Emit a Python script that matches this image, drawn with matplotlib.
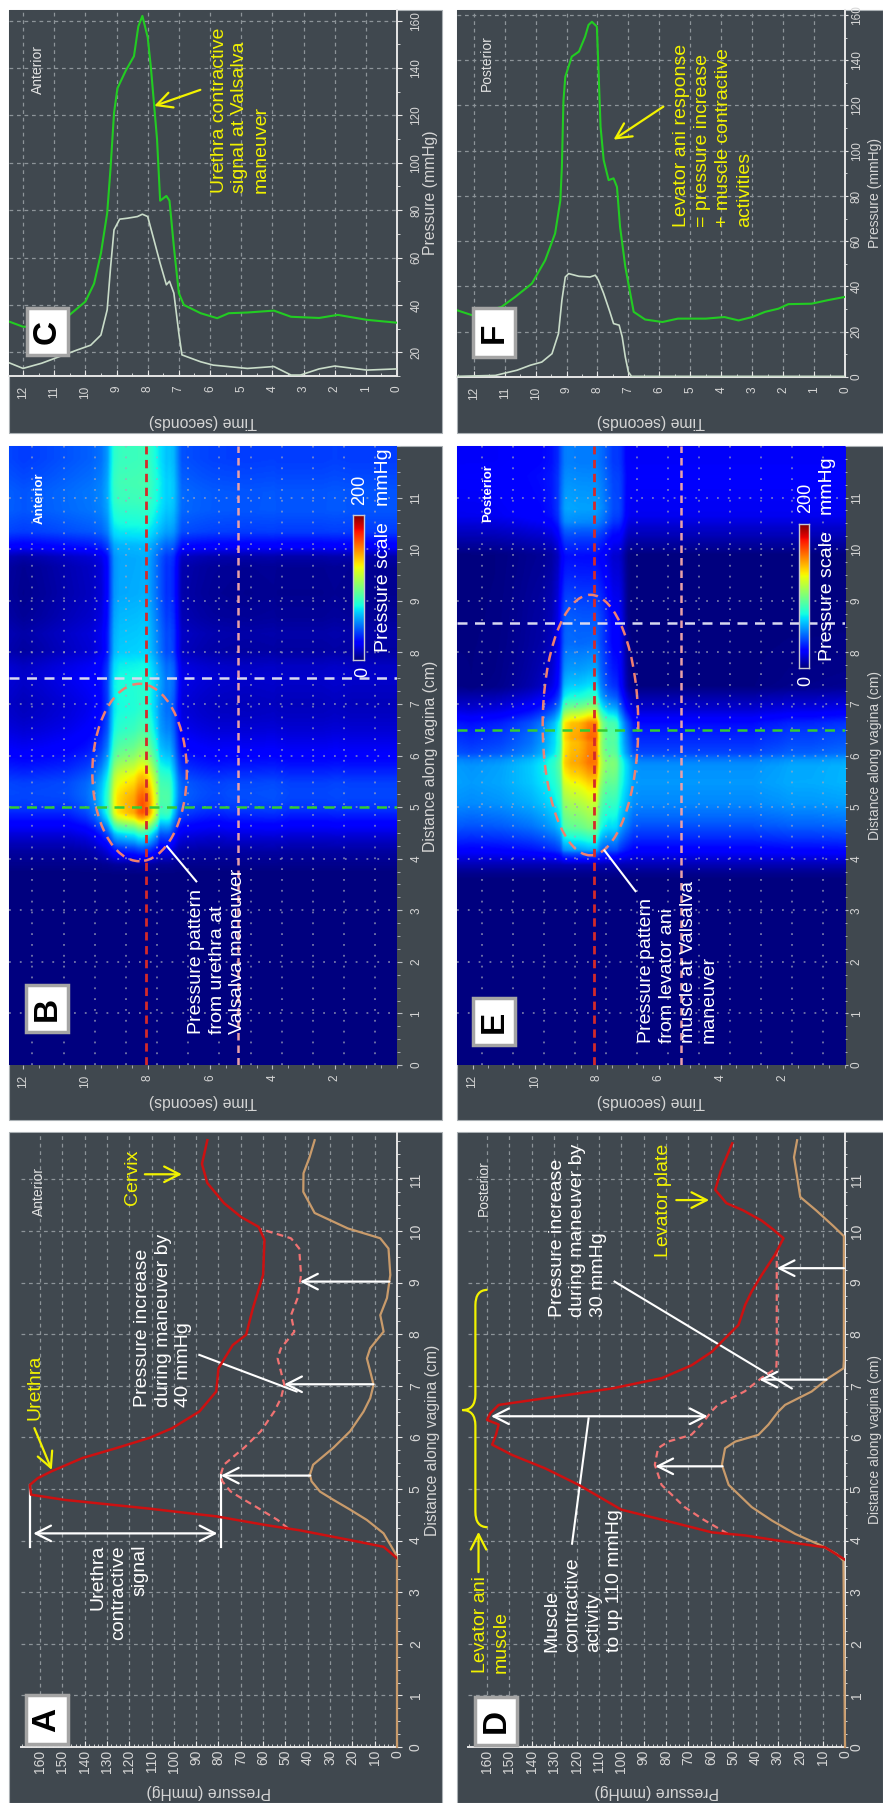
import numpy as np
import matplotlib
matplotlib.use("Agg")
import matplotlib.pyplot as plt
from matplotlib.patches import Rectangle, Ellipse, PathPatch
from matplotlib.path import Path
from matplotlib.ticker import MultipleLocator

plt.rcParams["font.family"] = ["Liberation Sans", "DejaVu Sans"]

# ---------------- anterior wall: pressure along the vagina ----------------
ant_max_d = [3.66, 3.88, 4.01, 4.20, 4.30, 4.47, 4.62, 4.79, 4.89, 5.08, 5.21, 5.34,
             5.60, 5.79, 5.99, 6.18, 6.50, 6.89, 7.34, 7.79, 7.99, 8.50, 9.15, 9.83,
             10.08, 10.27, 10.54, 10.93, 11.30, 11.76]
ant_max_p = [0, 6, 21, 43.6, 58.6, 81, 111, 149, 164, 164.5, 161, 155,
             141, 126, 111, 100.7, 88.6, 81, 80, 73.6, 67.6, 64.6, 60, 59.4,
             62, 69.8, 77.5, 85, 87.4, 85]
ant_rest_d = [0, 3.66, 3.75, 4.14, 4.40, 4.60, 4.79, 4.95, 5.15, 5.28, 5.47, 5.80,
              6.12, 6.50, 6.76, 7.02, 7.28, 7.53, 7.73, 8.05, 8.37, 8.70, 9.15,
              9.66, 9.86, 10.05, 10.35, 10.76, 11.12, 11.43, 11.76]
ant_rest_p = [0, 0, 0.7, 6, 13.5, 21, 28.5, 34.5, 38.3, 39, 37.6, 28.5,
              21, 15, 12, 10.5, 12, 13.5, 12, 6, 7.5, 4.5, 3,
              3.8, 7.5, 22, 36.9, 42, 41.9, 39.2, 36.9]
ant_increase = 40

# ---------------- posterior wall: pressure along the vagina ----------------
post_max_d = [3.63, 3.87, 4.00, 4.10, 4.16, 4.39, 4.60, 5.08, 5.40, 5.66, 5.86, 6.05,
              6.25, 6.34, 6.47, 6.63, 6.76, 6.95, 7.15, 7.40, 7.66, 7.92, 8.18, 8.57,
              8.83, 9.15, 9.54, 9.86, 10.05, 10.20, 10.40, 10.54, 10.80, 11.18, 11.70]
post_max_p = [0, 8.9, 29.8, 44.6, 59.5, 80.4, 100, 119, 134, 148.8, 157.7, 156,
              154.8, 160, 158.5, 154.8, 134, 104, 81.8, 68.5, 59.5, 53.6, 47.6, 44.6,
              41.7, 37.2, 31.3, 27.5, 32.7, 37.2, 45.5, 53, 58, 55.4, 50.4]
post_rest_d = [0, 3.61, 3.74, 3.90, 4.13, 4.39, 4.65, 5.08, 5.47, 5.79, 5.92, 6.05,
               6.25, 6.50, 6.63, 6.89, 7.15, 7.34, 7.50, 9.90, 10.10, 10.40, 10.66,
               11.05, 11.43, 11.76]
post_rest_p = [0, 0.7, 3.7, 10.4, 22.3, 32.7, 41.7, 52, 55, 53.6, 49, 38.7,
               34.2, 29.8, 26.8, 14.9, 7.4, 0.7, 0.5, 0.5, 5.3, 12.9, 20,
               21.4, 22.8, 21.4]
post_increase = 30

# ---------------- time traces at two sensors (s, mmHg) ----------------
ant_green_t = [0, 0.96, 1.9, 2.5, 3.4, 3.95, 4.8, 5.4, 5.77, 6.3, 6.84, 7.0, 7.16, 7.3,
               7.4, 7.6, 7.7, 7.9, 8.0, 8.17, 8.3, 8.44, 8.7, 8.97, 9.08, 9.19, 9.3,
               9.5, 9.72, 10.0, 10.58, 11.1, 12.0, 12.45]
ant_green_p = [32.5, 33.7, 35.8, 34.5, 35, 37.6, 36.8, 36.5, 34.4, 36.5, 40, 45, 64.6, 84,
               86, 84, 110, 140.7, 153, 162, 157.6, 145, 139, 131.5, 121, 98, 78.7,
               61.8, 49, 41.4, 35, 30.8, 30.8, 33]
ant_white_t = [0, 0.96, 2.0, 2.5, 3.1, 3.4, 3.95, 4.8, 5.9, 6.3, 6.9, 7.0, 7.16, 7.3,
               7.4, 7.6, 7.8, 8.0, 8.17, 8.33, 8.65, 8.9, 9.08, 9.19, 9.3, 9.5, 9.83,
               10.26, 11.4, 12.0, 12.45]
ant_white_p = [13, 12.5, 14.2, 13, 10.4, 10.4, 14, 13.2, 14.6, 16, 18.9, 28, 45, 50,
               48.5, 57.6, 67.5, 77.3, 78.3, 77.3, 76.6, 76.2, 71.7, 56, 37.9, 27.3, 23,
               21, 15.4, 13.2, 15.6]

post_green_t = [0, 0.54, 1.08, 1.83, 2.15, 2.58, 3.0, 3.44, 3.9, 4.5, 5.4, 5.9, 6.46,
                6.83, 6.94, 7.1, 7.27, 7.37, 7.48, 7.64, 7.8, 7.9, 7.97, 8.02, 8.18,
                8.29, 8.4, 8.6, 8.83, 9.04, 9.1, 9.15, 9.2, 9.37, 9.69, 10.12, 10.66,
                11.1, 12.05, 12.54]
post_green_p = [35.4, 34, 32.4, 32.2, 30.2, 28.8, 26.5, 25, 26.5, 25.8, 25.8, 24.3, 25.4,
                28.8, 36.9, 48.7, 66.4, 84, 87.8, 87, 95.9, 110.6, 137, 154.9, 157,
                155.6, 150.4, 143.8, 141.6, 132.7, 122, 93, 78, 63.4, 51.6, 41.3, 35.4,
                31, 27.3, 29.5]
post_white_t = [0, 6.9, 7.0, 7.1, 7.2, 7.3, 7.48, 7.6, 7.8, 7.97, 8.07, 8.24, 8.6, 8.93,
                9.04, 9.15, 9.26, 9.47, 9.8, 10.17, 10.6, 11.3, 12.54]
post_white_p = [0.3, 0.3, 2.2, 8.8, 17.7, 22.9, 23.6, 28.8, 36.9, 42.8, 45, 44.2, 44.5,
                45.7, 44.2, 33.9, 19.2, 10.3, 6.6, 5.2, 3, 0.7, 0.3]

# sensor positions (cm) and marked instants (s)
ant_sensor_d = (5.0, 7.5)
ant_cut_t = (8.05, 5.1)
post_sensor_d = (6.5, 8.57)
post_cut_t = (8.1, 5.27)

scale_range = (0, 200)

# ---------------- figure ----------------
W, H = 883, 1803
fig = plt.figure(figsize=(W / 100, H / 100), dpi=100, facecolor="white")

PANEL = "#40484f"
GRID = "#8d9499"
AXIS = "#e6e6e6"
LAB = "#d6d6d6"
YEL = "#f2f200"
RED = "#cc1111"
TAN = "#c99b6b"
PINK = "#f07272"
GREEN = "#22cc22"
PALE = "#c9dcc9"


def frac(x0, y0, x1, y1):
    return [x0 / W, 1 - y1 / H, (x1 - x0) / W, (y1 - y0) / H]


for bx in [(9, 10, 442, 433), (457, 10, 883, 433), (9, 446, 442, 1120),
           (457, 446, 883, 1120), (9, 1132, 442, 1803), (457, 1132, 883, 1803)]:
    x0, y0, x1, y1 = bx
    fig.add_artist(Rectangle((x0 / W, 1 - y1 / H), (x1 - x0) / W, (y1 - y0) / H,
                             transform=fig.transFigure, facecolor=PANEL,
                             edgecolor="#aab0b4", lw=0.8, zorder=-10))


def line_axes(box, xlim, ylim, xmaj, xmin, ymaj, ymin, fs, xpad, ypad, ylen):
    ax = fig.add_axes(frac(*box))
    ax.set_facecolor(PANEL)
    ax.set_xlim(*xlim)
    ax.set_ylim(*ylim)
    for side in ("top", "left"):
        ax.spines[side].set_visible(False)
    for side in ("bottom", "right"):
        ax.spines[side].set_color(AXIS)
        ax.spines[side].set_linewidth(1.4)
    ax.yaxis.tick_right()
    ax.set_xticks(list(xmaj))
    ax.set_xticklabels([str(v) for v in xmaj], rotation=90, fontsize=fs, color=LAB)
    ax.set_yticks(list(ymaj))
    ax.set_yticklabels([str(v) for v in ymaj], rotation=90, va="center", fontsize=fs, color=LAB)
    ax.xaxis.set_minor_locator(MultipleLocator(xmin))
    ax.yaxis.set_minor_locator(MultipleLocator(ymin))
    ax.tick_params(axis="x", which="major", direction="in", length=4, color=AXIS, pad=xpad)
    ax.tick_params(axis="x", which="minor", direction="in", length=2.5, color=AXIS)
    ax.tick_params(axis="y", which="major", direction="out", length=ylen, color=AXIS, pad=ypad)
    ax.tick_params(axis="y", which="minor", direction="out", length=ylen * 0.6, color=AXIS)
    ax.grid(True, which="major", color=GRID, ls=(0, (3, 3)), lw=0.9)
    ax.set_axisbelow(True)
    return ax


def arrow(ax, tail, head, color="white", style="->", lw=1.6):
    ax.annotate("", xy=head, xytext=tail, annotation_clip=False,
                arrowprops=dict(arrowstyle=f"{style},head_length=0.55,head_width=0.28",
                                color=color, lw=lw, shrinkA=0, shrinkB=0, mutation_scale=20))


def profile_panel(box, max_d, max_p, rest_d, rest_p, inc, arrow_d, ypad, ylen):
    ax = line_axes(box, (168.5, 0), (0, 11.9), range(0, 161, 10), 2, range(0, 12), 0.25,
                   10, 2, ypad, ylen)
    ax.plot(rest_p, rest_d, color=TAN, lw=1.6, zorder=3, clip_on=False)
    dd = np.linspace(max_d[0], max_d[-1], 800)
    mx = np.interp(dd, max_d, max_p)
    raised = np.interp(dd, rest_d, rest_p) + inc
    below = raised <= mx
    i0 = int(np.argmax(below))
    after = np.where(~below[i0:])[0]
    i1 = i0 + (after[0] if len(after) else len(dd) - i0)
    sel = slice(i0, i1)
    ax.plot(raised[sel], dd[sel], color=PINK, lw=1.6, ls=(0, (3, 2)), zorder=3)
    ax.plot(max_p, max_d, color=RED, lw=1.8, zorder=4)
    for d in arrow_d:
        base = np.interp(d, rest_d, rest_p)
        arrow(ax, (base, d), (base + inc, d))
    return ax, dd, mx, raised, sel


# ---------------- A: anterior profile ----------------
axA, ddA, mxA, rsA, selA = profile_panel((21, 1133, 397, 1747), ant_max_d, ant_max_p,
                                          ant_rest_d, ant_rest_p, ant_increase,
                                          [5.26, 7.03, 9.02], 5, 3.5)
p_hi = max(ant_max_p)
i_lo = np.argmax(rsA[selA])
p_lo = rsA[selA][i_lo]
d_lo = ddA[selA][i_lo]
axA.plot([p_hi, p_hi], [3.88, 5.08], color="white", lw=1.6)
axA.plot([p_lo, p_lo], [3.88, d_lo], color="white", lw=1.6)
arrow(axA, (p_hi - 1.5, 4.14), (p_lo + 1.5, 4.14), style="<->")
axA.plot([88.6, 45], [7.6, 6.89], color="white", lw=1.5)
arrow(axA, (162.5, 6.18), (154.7, 5.37), color=YEL)
arrow(axA, (113, 11.1), (96.4, 11.1), color=YEL)

# ---------------- D: posterior profile ----------------
axD, ddD, mxD, rsD, selD = profile_panel((468, 1133, 845, 1747), post_max_d, post_max_p,
                                          post_rest_d, post_rest_p, post_increase,
                                          [5.44, 7.12, 9.28], 1, 2.5)
d_mc = 6.41
arrow(axD, (np.interp(d_mc, post_max_d, post_max_p) - 1, d_mc),
      (np.interp(d_mc, post_rest_d, post_rest_p) + post_increase, d_mc), style="<->")
axD.plot([114.6, 122], [6.37, 3.94], color="white", lw=1.5)
axD.plot([103, 23.8], [9.02, 6.95], color="white", lw=1.5)
arrow(axD, (163.8, 3.39), (163.8, 4.17), color=YEL)
arrow(axD, (75.4, 10.6), (60.7, 10.6), color=YEL)
# brace spanning the levator ani region
pe, pm, pt = 159.8, 165.2, 171.0
dt, dm, db, r = 8.86, 6.53, 4.26, 0.3
verts = [(pe, dt), (pm, dt), (pm, dt - r), (pm, dm + r), (pm, dm), (pt, dm),
         (pm, dm), (pm, dm - r), (pm, db + r), (pm, db), (pe, db)]
codes = [Path.MOVETO, Path.CURVE3, Path.CURVE3, Path.LINETO, Path.CURVE3, Path.CURVE3,
         Path.CURVE3, Path.CURVE3, Path.LINETO, Path.CURVE3, Path.CURVE3]
axD.add_patch(PathPatch(Path(verts, codes), fill=False, ec=YEL, lw=1.6, clip_on=False))


# ---------------- C / F: time traces ----------------
def trace_panel(box, tmax, ylim, yticks, gt, gp, wt, wp, ypad, ylen):
    ax = line_axes(box, (tmax, 0), ylim, range(0, 13), 0.5, yticks, 10, 8.5, 7, ypad, ylen)
    ax.plot(wt, wp, color=PALE, lw=1.2, zorder=3)
    ax.plot(gt, gp, color=GREEN, lw=1.5, zorder=4)
    return ax


axC = trace_panel((9, 10, 397, 376), 12.45, (10, 164.5), range(20, 161, 20),
                  ant_green_t, ant_green_p, ant_white_t, ant_white_p, 6, 3.5)
arrow(axC, (6.31, 130.8), (7.79, 124), color=YEL)
axF = trace_panel((457, 10, 845, 377), 12.54, (0, 162.2), range(0, 161, 20),
                  post_green_t, post_green_p, post_white_t, post_white_p, 1.5, 2.5)
arrow(axF, (5.87, 119.5), (7.48, 104.9), color=YEL)


# ---------------- B / E: pressure maps ----------------
def pressure_map(tmax, dmax, max_d, max_p, rest_d, rest_p, gt, gp, wt, wp, sensors):
    t = np.linspace(0, tmax, 500)
    d = np.linspace(0, dmax, 500)
    peak = np.interp(d, max_d, max_p)
    rest = np.interp(d, rest_d, rest_p)

    def envelope(tt, pp):
        v = np.interp(t, tt, pp)
        base = np.median(v[t < 6])
        return np.clip((v - base) / (v.max() - base), 0, 1)

    eg, ew = envelope(gt, gp), envelope(wt, wp)
    a = np.clip((d - sensors[0]) / (sensors[1] - sensors[0]), 0, 1)
    wgt = (1 - a)[:, None] * eg[None, :] + a[:, None] * ew[None, :]
    return rest[:, None] + wgt * np.maximum(peak - rest, 0)[:, None]


def heat_axes(box, Z, tmax, dmax, sensors, cuts, ell, leader, cbar_box, ypad, ylen):
    ax = fig.add_axes(frac(*box))
    ax.imshow(Z, extent=(0, tmax, 0, dmax), origin="lower", aspect="auto", cmap="jet",
              vmin=scale_range[0], vmax=scale_range[1], interpolation="bilinear")
    ax.set_xlim(tmax, 0)
    ax.set_ylim(0, dmax)
    for s in ax.spines.values():
        s.set_visible(False)
    ax.yaxis.tick_right()
    ax.set_xticks(list(range(2, 13, 2)))
    ax.set_xticklabels([str(v) for v in range(2, 13, 2)], rotation=90, fontsize=8.5, color=LAB)
    ax.set_yticks(list(range(12)))
    ax.set_yticklabels([str(v) for v in range(12)], rotation=90, va="center", fontsize=8.5, color=LAB)
    ax.xaxis.set_minor_locator(MultipleLocator(0.5))
    ax.yaxis.set_minor_locator(MultipleLocator(0.25))
    ax.tick_params(axis="x", which="major", direction="out", length=3, color="#b8bcc0", pad=4)
    ax.tick_params(axis="x", which="minor", direction="out", length=2, color="#b8bcc0")
    ax.tick_params(axis="y", which="major", direction="out", length=ylen, color="#b8bcc0", pad=ypad)
    ax.tick_params(axis="y", which="minor", direction="out", length=ylen * 0.6, color="#b8bcc0")
    for tg in np.arange(0.7, tmax, 1.0):
        ax.axvline(tg, color="#a4a8bc", ls=(0, (1, 5)), lw=1.3, alpha=0.7)
    for dg in range(1, 12):
        ax.axhline(dg, color="#a4a8bc", ls=(0, (1, 5)), lw=1.3, alpha=0.7)
    ax.axhline(sensors[0], color="#33cc33", ls=(0, (4, 3)), lw=1.8)
    ax.axhline(sensors[1], color="#d8d8f0", ls=(0, (4, 3)), lw=1.8)
    ax.axvline(cuts[0], color="#d42a2a", ls=(0, (3, 2)), lw=2.0)
    ax.axvline(cuts[1], color="#e8a0a8", ls=(0, (3, 2)), lw=1.8)
    ax.add_patch(Ellipse(ell[:2], ell[2], ell[3], fill=False, ec="#f08070", lw=1.8,
                         ls=(0, (4, 2.5))))
    ax.plot(leader[0], leader[1], color="white", lw=1.5)
    cax = fig.add_axes(frac(*cbar_box))
    cax.imshow(np.linspace(*scale_range, 256)[:, None], origin="lower", aspect="auto",
               cmap="jet", extent=(0, 1, *scale_range))
    cax.set_xticks([])
    cax.set_yticks([])
    for s in cax.spines.values():
        s.set_color("#c8c8d0")
        s.set_linewidth(1)
    return ax


ZB = pressure_map(12.45, 12.0, ant_max_d, ant_max_p, ant_rest_d, ant_rest_p,
                  ant_green_t, ant_green_p, ant_white_t, ant_white_p, ant_sensor_d)
axB = heat_axes((9, 446, 397, 1065), ZB, 12.45, 12.0, ant_sensor_d, ant_cut_t,
                (8.26, 5.67, 3.03, 3.44), ([6.44, 7.38], [3.56, 4.24]), (353, 515, 364, 660),
                6, 3.5)
ZE = pressure_map(12.5, 12.0, post_max_d, post_max_p, post_rest_d, post_rest_p,
                  post_green_t, post_green_p, post_white_t, post_white_p, post_sensor_d)
axE = heat_axes((457, 446, 845, 1065), ZE, 12.5, 12.0, post_sensor_d, post_cut_t,
                (8.2, 6.59, 3.08, 5.05), ([6.75, 7.75], [3.37, 4.16]), (799, 524, 809, 668),
                1.5, 2.5)

# ---------------- text layer (pixel coordinates) ----------------
ov = fig.add_axes([0, 0, 1, 1], zorder=30)
ov.set_xlim(0, W)
ov.set_ylim(H, 0)
ov.axis("off")


def T(x, y, s, size=14, color="white", rot=90, ha="center", va="bottom", ma="left",
      weight="normal"):
    ov.text(x, y, s, fontsize=size, color=color, rotation=rot, ha=ha, va=va,
            multialignment=ma, fontweight=weight, linespacing=1.3)


def letter(x0, y0, x1, y1, s):
    ov.add_patch(Rectangle((x0, y0), x1 - x0, y1 - y0, fc="white", ec="#a4a4a4", lw=2.5))
    T((x0 + x1) / 2, (y0 + y1) / 2, s, size=24, color="black", va="center", weight="bold")


AXL = 11.3
AXR = 10
XR = 875
# C
T(38, 70, "Anterior", size=10, color="#e2e2e2", va="center")
T(240, 193, "Urethra contractive\nsignal at Valsalva\nmaneuver", color=YEL)
letter(27, 308, 68, 355, "C")
T(203, 422, "Time (seconds)", size=AXL, color=LAB, rot=180, va="center")
T(431, 193, "Pressure (mmHg)", size=AXL, color=LAB, va="center")
# F
T(487, 63, "Posterior", size=10, color="#e2e2e2", va="center")
T(713, 227, "Levator ani response\n= pressure increase\n+ muscle contractive\nactivities", color=YEL)
letter(473, 308, 515, 357, "F")
T(651, 422, "Time (seconds)", size=AXL, color=LAB, rot=180, va="center")
T(XR, 193, "Pressure (mmHg)", size=AXR, color=LAB, va="center")
# B
T(40, 498, "Anterior", size=9.5, color="white", va="center", weight="bold")
T(217, 1034, "Pressure pattern\nfrom urethra at\nValsalva maneuver")
T(363, 672, "0", size=13, va="center")
T(360, 490, "200", size=13, va="center")
T(383, 652, "Pressure scale   mmHg")
T(203, 1102, "Time (seconds)", size=AXL, color=LAB, rot=180, va="center")
T(430, 756, "Distance along vagina (cm)", size=AXL, color=LAB, va="center")
letter(26, 985, 68, 1032, "B")
# E
T(488, 493, "Posterior", size=9.5, color="white", va="center", weight="bold")
T(678, 1043, "Pressure pattern\nfrom levator ani\nmuscle at Valsalva\nmaneuver")
T(806, 681, "0", size=13, va="center")
T(806, 498, "200", size=13, va="center")
T(828, 661, "Pressure scale   mmHg")
T(651, 1102, "Time (seconds)", size=AXL, color=LAB, rot=180, va="center")
T(XR, 756, "Distance along vagina (cm)", size=AXR, color=LAB, va="center")
letter(473, 998, 515, 1045, "E")
# A
T(39, 1192, "Anterior", size=10, color="#e2e2e2", va="center")
T(132, 1205, "Cervix", color=YEL)
T(35, 1420, "Urethra", color=YEL)
T(119, 1545, "Urethra\ncontractive\nsignal", va="top", ma="right")
T(163, 1407, "Pressure increase\nduring maneuver by\n40 mmHg")
letter(26, 1695, 68, 1744, "A")
T(209, 1792, "Pressure (mmHg)", size=AXL, color=LAB, rot=180, va="center")
T(432, 1440, "Distance along vagina (cm)", size=AXL, color=LAB, va="center")
# D
T(484, 1188, "Posterior", size=10, color="#e2e2e2", va="center")
T(664, 1257, "Levator plate", color=YEL)
T(490.5, 1673, "Levator ani\nmuscle", color=YEL)
T(583, 1652, "Muscle\ncontractive\nactivity\nto up 110 mmHg")
T(578, 1317, "Pressure increase\nduring maneuver by\n30 mmHg")
letter(475, 1697, 517, 1745, "D")
T(657, 1792, "Pressure (mmHg)", size=AXL, color=LAB, rot=180, va="center")
T(XR, 1440, "Distance along vagina (cm)", size=AXR, color=LAB, va="center")

fig.savefig("out.png", dpi=100, facecolor="white")
